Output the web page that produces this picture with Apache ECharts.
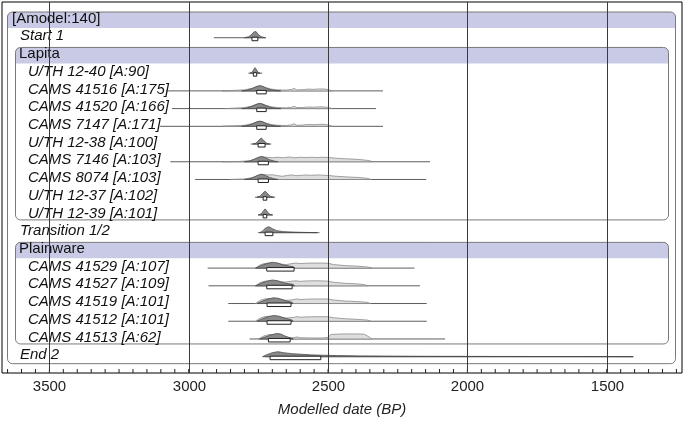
<!DOCTYPE html>
<html><head><meta charset="utf-8">
<script src="https://cdn.jsdelivr.net/npm/echarts@6/dist/echarts.min.js"></script>
<style>html,body{margin:0;padding:0;background:#fff}#c{width:684px;height:422px}</style>
</head><body><div id="c"></div>
<script>
// ---- axis ----
const X_MIN = 1230, X_MAX = 3670;
const majorTicks = [3500, 3000, 2500, 2000, 1500];
const tickLabels = ['3500', '3000', '2500', '2000', '1500'];
const minorStep = 50;
const axisTitle = 'Modelled date (BP)';

// ---- rows ----
const rowLabels = ['[Amodel:140]', 'Start 1', 'Lapita', 'U/TH 12-40 [A:90]', 'CAMS 41516 [A:175]',
  'CAMS 41520 [A:166]', 'CAMS 7147 [A:171]', 'U/TH 12-38 [A:100]', 'CAMS 7146 [A:103]',
  'CAMS 8074 [A:103]', 'U/TH 12-37 [A:102]', 'U/TH 12-39 [A:101]', 'Transition 1/2', 'Plainware',
  'CAMS 41529 [A:107]', 'CAMS 41527 [A:109]', 'CAMS 41519 [A:101]', 'CAMS 41512 [A:101]',
  'CAMS 41513 [A:62]', 'End 2'];
const rowKinds = ['model', 'boundary', 'phase', 'date', 'date', 'date', 'date', 'date', 'date', 'date',
  'date', 'date', 'boundary', 'phase', 'date', 'date', 'date', 'date', 'date', 'boundary'];
// group boxes: [first row, last row, level]
const groupBoxes = [[0, 19, 0], [2, 11, 1], [13, 18, 1]];

// ---- distributions (BP, relative height) ----
const distRows = [1, 3, 4, 5, 6, 7, 8, 9, 10, 11, 12, 14, 15, 16, 17, 18, 19];
const rangeLines = [[2910, 2723], [2786, 2736], [3081, 2303], [3060, 2328], [3103, 2303], [2777, 2704],
  [3066, 2134], [2977, 2148], [2762, 2690], [2751, 2698], [2751, 2531], [2932, 2190], [2929, 2170],
  [2858, 2146], [2858, 2146], [2782, 2080], [2726, 1405]];
const hpdRanges = [[2773, 2752], [2768, 2756], [2756, 2722], [2756, 2722], [2756, 2722], [2751, 2726],
  [2751, 2714], [2751, 2714], [2733, 2720], [2733, 2720], [2726, 2698], [2720, 2622], [2720, 2629],
  [2719, 2633], [2719, 2633], [2714, 2636], [2708, 2526]];
const likelihoods = [
  null, null,
  [[2880,0],[2840,0.5],[2800,1],[2775,2.5],[2755,4.5],[2740,5],[2725,3.5],[2705,1.8],[2680,1],[2650,0.8],[2630,1.5],[2622,2.5],[2612,1],[2590,1.2],[2570,1.8],[2550,1.5],[2530,2],[2510,1.8],[2495,1],[2485,0]],
  [[2870,0],[2835,0.5],[2800,1],[2775,2.5],[2755,4.5],[2740,5],[2725,3.5],[2705,1.8],[2680,1],[2650,0.8],[2630,1.4],[2622,2.3],[2612,1],[2590,1.1],[2570,1.6],[2550,1.4],[2530,1.8],[2510,1.6],[2495,0.9],[2485,0]],
  [[2880,0],[2840,0.5],[2800,1],[2775,2.5],[2755,4.5],[2740,5],[2725,3.5],[2705,1.8],[2680,1],[2650,0.8],[2630,1.5],[2622,2.6],[2612,1],[2590,1.3],[2570,1.9],[2550,1.6],[2530,2],[2510,1.9],[2495,1],[2485,0]],
  null,
  [[2880,0],[2820,0.3],[2780,1],[2760,3],[2740,5],[2720,4.5],[2700,4],[2680,4.5],[2660,4],[2640,4.8],[2620,4],[2600,4.5],[2580,4.2],[2560,4.5],[2540,4.2],[2520,4.5],[2500,4.3],[2470,3.5],[2440,3],[2400,2.5],[2370,1.8],[2350,1],[2340,0]],
  [[2850,0],[2800,0.5],[2770,2],[2750,4],[2735,5],[2715,4.5],[2700,4.8],[2685,4],[2665,3.2],[2645,4],[2630,4.5],[2615,3.8],[2600,4],[2580,4.5],[2560,4.2],[2540,4.5],[2520,4.3],[2500,4],[2470,3.2],[2430,2.5],[2390,2],[2360,1.2],[2345,0]],
  null, null, null,
  [[2760,0],[2745,3],[2730,4.5],[2710,5],[2690,4.5],[2670,4],[2650,3.5],[2630,4.5],[2615,5],[2600,4.5],[2580,4.8],[2560,5],[2540,5],[2520,5],[2500,4.8],[2480,3.5],[2440,2.5],[2400,2],[2360,1.2],[2343,0]],
  [[2760,0],[2745,3],[2730,4.5],[2710,5],[2690,4.3],[2670,4],[2650,3.8],[2630,4.6],[2615,5],[2600,4.4],[2580,4.8],[2560,5],[2540,5],[2520,4.9],[2500,4.6],[2480,3.5],[2440,2.5],[2400,2],[2370,1.2],[2357,0]],
  [[2760,0],[2745,3],[2730,4.5],[2710,5],[2690,4.5],[2670,3.8],[2650,3.2],[2625,3.8],[2612,4.6],[2600,4],[2580,4.3],[2560,4.5],[2540,4.5],[2520,4.5],[2500,4.5],[2480,3.5],[2440,2.5],[2400,2],[2360,1.2],[2347,0]],
  [[2760,0],[2745,3],[2730,4.5],[2710,5],[2690,4.5],[2670,3.8],[2650,3.2],[2625,3.8],[2612,4.6],[2600,4],[2580,4.3],[2560,4.5],[2540,4.5],[2520,4.5],[2500,4.5],[2480,3.5],[2440,2.5],[2400,2],[2360,1.2],[2347,0]],
  [[2750,0],[2730,3],[2710,4.5],[2690,4],[2670,3],[2650,1.5],[2625,1.2],[2610,2],[2600,1.2],[2560,1],[2520,1],[2500,1.5],[2490,4.5],[2450,5],[2400,5],[2370,4.8],[2350,1.5],[2343,0]],
  null
];
const posteriors = [
  [[2800,0],[2785,1],[2775,3],[2765,6],[2758,6],[2750,3],[2740,1],[2725,0]],
  [[2780,0],[2772,1],[2766,4],[2762,5.5],[2758,4],[2752,1],[2744,0]],
  [[2810,0],[2790,0.8],[2770,2.5],[2755,4.5],[2745,5.2],[2735,4.5],[2720,2.5],[2705,1.2],[2690,0.5],[2670,0]],
  [[2810,0],[2790,0.8],[2770,2.5],[2755,4.5],[2745,5.2],[2735,4.5],[2720,2.5],[2705,1.2],[2690,0.5],[2670,0]],
  [[2810,0],[2790,0.8],[2770,2.5],[2755,4.5],[2745,5.2],[2735,4.5],[2720,2.5],[2705,1.2],[2690,0.5],[2670,0]],
  [[2770,0],[2758,1],[2748,4],[2740,6],[2732,4],[2722,1],[2710,0]],
  [[2800,0],[2780,0.8],[2765,2.5],[2750,4.5],[2738,5.3],[2725,4],[2710,2],[2695,0.8],[2680,0]],
  [[2800,0],[2780,0.8],[2765,2.5],[2750,4.5],[2738,5.3],[2725,4],[2710,2],[2695,0.8],[2680,0]],
  [[2755,0],[2744,1],[2734,4],[2726,6],[2718,4],[2708,1],[2696,0]],
  [[2750,0],[2740,1],[2732,4],[2726,6],[2720,4],[2712,1],[2700,0]],
  [[2745,0],[2735,1.5],[2725,4.5],[2713,6],[2700,4],[2685,2],[2660,1],[2620,0.5],[2580,0.2],[2540,0]],
  [[2760,0],[2740,2.5],[2720,4.5],[2700,5.8],[2680,5],[2660,3],[2640,2],[2625,1.5],[2620,0]],
  [[2760,0],[2740,2.5],[2720,4.5],[2700,5.8],[2680,5],[2660,3],[2640,2],[2625,1.5],[2620,0]],
  [[2755,0],[2735,2.5],[2715,4.5],[2695,5.8],[2675,5],[2655,3],[2640,2],[2630,1.2],[2625,0]],
  [[2755,0],[2735,2.5],[2715,4.5],[2695,5.8],[2675,5],[2655,3],[2640,2],[2630,1.2],[2625,0]],
  [[2745,0],[2725,2],[2705,4],[2685,5.5],[2670,5],[2655,3],[2640,1.5],[2625,0]],
  [[2735,0],[2720,2],[2700,4],[2680,5],[2660,4],[2630,3],[2600,2.5],[2560,1.8],[2529,1.5],[2470,1.1],[2386,0.8],[2300,0.6],[2170,0.4],[2000,0.3],[1883,0.2],[1700,0.15],[1524,0.1],[1405,0]]
];

const ROW_PX = 17.72;
const Y_MIN = -1.016, Y_MAX = 19.921;
const FONT = '"Liberation Sans", Arial, sans-serif';
const indentPx = {model: 12, boundary: 20, phase: 19, date: 28};

const chart = echarts.init(document.getElementById('c'), null, {renderer: 'canvas'});

function renderBoxes(params, api) {
  const b = groupBoxes[params.dataIndex];
  const yStart = api.coord([X_MAX, b[0]])[1];
  const yEnd = api.coord([X_MAX, b[1]])[1];
  const top = yStart - 8, bandBottom = yStart + 8;
  const bottom = yEnd + (b[2] === 0 ? 7 : 5);
  const left = b[2] === 0 ? 7.5 : 15.5;
  const right = b[2] === 0 ? 675.5 : 668.5;
  return {type: 'group', children: [
    {type: 'rect', shape: {x: left, y: top, width: right - left, height: bandBottom - top, r: [5, 5, 0, 0]},
     style: {fill: '#c9cbe6'}},
    {type: 'rect', shape: {x: left, y: top, width: right - left, height: bottom - top, r: 5},
     style: {fill: null, stroke: '#7a7a7a', lineWidth: 1}}
  ]};
}

function renderDist(params, api) {
  const k = params.dataIndex;
  const row = distRows[k];
  const pt = (bp, h) => api.coord([bp, row - h / ROW_PX]);
  const children = [];
  const l = rangeLines[k];
  const a = pt(l[0], 0), b = pt(l[1], 0);
  children.push({type: 'line', shape: {x1: a[0], y1: a[1], x2: b[0], y2: b[1]},
    style: {stroke: '#5e5e5e', lineWidth: 1}});
  if (likelihoods[k]) {
    children.push({type: 'polygon', shape: {points: likelihoods[k].map(p => pt(p[0], p[1]))},
      style: {fill: '#dedede', stroke: '#8c8c8c', lineWidth: 0.8}});
  }
  children.push({type: 'polygon', shape: {points: posteriors[k].map(p => pt(p[0], p[1]))},
    style: {fill: '#8a8a8a', stroke: '#4a4a4a', lineWidth: 0.8}});
  const r = hpdRanges[k];
  const r0 = pt(r[0], 0), r1 = pt(r[1], 0);
  children.push({type: 'rect', shape: {x: r0[0], y: r0[1] - 0.5, width: r1[0] - r0[0], height: 3.5},
    style: {fill: '#ffffff', stroke: '#222', lineWidth: 1}});
  return {type: 'group', children};
}

function renderLabels(params, api) {
  const i = params.dataIndex;
  const kind = rowKinds[i];
  const y = api.coord([X_MAX, i])[1] - 1.5;
  const italic = (kind === 'model' || kind === 'phase') ? '' : 'italic ';
  return {type: 'text', style: {text: rowLabels[i], x: indentPx[kind], y: y,
    font: italic + '15px ' + FONT, fill: '#111', align: 'left', verticalAlign: 'middle'}};
}

function renderAxis(params, api) {
  const children = [];
  const yTop = api.coord([X_MAX, Y_MIN])[1];
  const yBot = api.coord([X_MAX, Y_MAX])[1];
  for (let v = X_MIN + 20; v < X_MAX; v += minorStep) {
    const x = api.coord([v, Y_MAX])[0];
    children.push({type: 'line', shape: {x1: x, y1: yBot, x2: x, y2: yBot - 4}, style: {stroke: '#222', lineWidth: 1}});
  }
  majorTicks.forEach((v, j) => {
    const x = Math.round(api.coord([v, Y_MAX])[0]) + 0.5;
    children.push({type: 'line', shape: {x1: x, y1: yTop, x2: x, y2: yBot}, style: {stroke: '#3a3a3a', lineWidth: 1}});
    children.push({type: 'text', style: {text: tickLabels[j], x: x, y: yBot + 14, font: '15px ' + FONT,
      fill: '#222', align: 'center', verticalAlign: 'middle'}});
  });
  return {type: 'group', children};
}

chart.setOption({
  animation: false,
  grid: {left: 2, right: 2, top: 2, bottom: 49, show: true, borderColor: '#000', borderWidth: 1, backgroundColor: 'transparent'},
  xAxis: {type: 'value', min: X_MIN, max: X_MAX, inverse: true,
    name: axisTitle, nameLocation: 'middle', nameGap: 29,
    nameTextStyle: {fontFamily: 'Liberation Sans', fontStyle: 'italic', fontSize: 15, color: '#222'},
    axisLine: {show: false}, axisTick: {show: false}, axisLabel: {show: false}, splitLine: {show: false}},
  yAxis: {type: 'value', min: Y_MIN, max: Y_MAX, inverse: true, show: false},
  series: [
    {type: 'custom', z: 1, renderItem: renderBoxes, data: groupBoxes.map(b => [X_MAX, b[0]])},
    {type: 'custom', z: 2, renderItem: renderDist, data: distRows.map((r, k) => [rangeLines[k][0], r])},
    {type: 'custom', z: 3, renderItem: renderLabels, data: rowLabels.map((s, i) => [X_MAX, i])},
    {type: 'custom', z: 4, renderItem: renderAxis, data: [[2500, 0]]}
  ]
});
</script></body></html>
